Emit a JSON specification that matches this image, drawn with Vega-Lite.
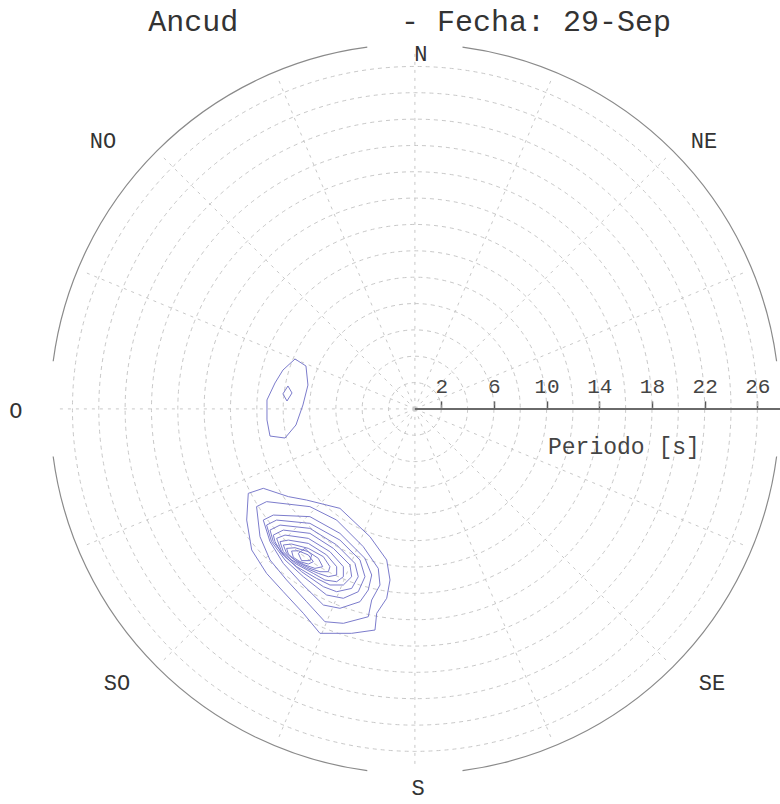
{
  "$schema": "https://vega.github.io/schema/vega-lite/v6.json",
  "width": 780,
  "height": 804,
  "autosize": {"type": "none"},
  "padding": 0,
  "background": "white",
  "config": {"view": {"stroke": null}},
  "datasets": {
    "rings": [{"p": 2, "o": 0}, {"p": 4, "o": 0}, {"p": 6, "o": 0}, {"p": 8, "o": 0}, {"p": 10, "o": 0}, {"p": 12, "o": 0}, {"p": 14, "o": 0}, {"p": 16, "o": 0}, {"p": 18, "o": 0}, {"p": 20, "o": 0}, {"p": 22, "o": 0}, {"p": 24, "o": 0}, {"p": 26, "o": 0}],
    "spokes": [
      {"o": 0, "ex": 0, "ny": 27}, {"o": 0, "ex": 10.33, "ny": 24.94}, {"o": 0, "ex": 19.09, "ny": 19.09}, {"o": 0, "ex": 24.94, "ny": 10.33},
      {"o": 0, "ex": 24.94, "ny": -10.33}, {"o": 0, "ex": 19.09, "ny": -19.09}, {"o": 0, "ex": 10.33, "ny": -24.94},
      {"o": 0, "ex": 0, "ny": -27}, {"o": 0, "ex": -10.33, "ny": -24.94}, {"o": 0, "ex": -19.09, "ny": -19.09}, {"o": 0, "ex": -24.94, "ny": -10.33},
      {"o": 0, "ex": -27, "ny": 0}, {"o": 0, "ex": -24.94, "ny": 10.33}, {"o": 0, "ex": -19.09, "ny": 19.09}, {"o": 0, "ex": -10.33, "ny": 24.94}
    ],
    "outer": [
      {"o": 0, "t1": 7.5, "t2": 82.5, "r": 27.7}, {"o": 0, "t1": 97.5, "t2": 172.5, "r": 27.7},
      {"o": 0, "t1": 187.5, "t2": 262.5, "r": 27.7}, {"o": 0, "t1": 277.5, "t2": 352.5, "r": 27.7}
    ],
    "axisline": [{"a": 0, "b": 27.72, "z": 0}],
    "contours": [
      {"c": "L1", "i": 1, "e": -12.65, "n": -6.41}, {"c": "L1", "i": 2, "e": -11.51, "n": -6.03}, {"c": "L1", "i": 3, "e": -9.61, "n": -6.66}, {"c": "L1", "i": 4, "e": -8.22, "n": -6.92}, {"c": "L1", "i": 5, "e": -5.69, "n": -7.55}, {"c": "L1", "i": 6, "e": -3.41, "n": -9.70}, {"c": "L1", "i": 7, "e": -2.14, "n": -11.47}, {"c": "L1", "i": 8, "e": -1.89, "n": -12.99}, {"c": "L1", "i": 9, "e": -2.14, "n": -14.38}, {"c": "L1", "i": 10, "e": -2.90, "n": -15.52}, {"c": "L1", "i": 11, "e": -3.03, "n": -16.79}, {"c": "L1", "i": 12, "e": -4.80, "n": -17.04}, {"c": "L1", "i": 13, "e": -7.21, "n": -17.04}, {"c": "L1", "i": 14, "e": -8.47, "n": -15.52}, {"c": "L1", "i": 15, "e": -9.99, "n": -13.88}, {"c": "L1", "i": 16, "e": -11.26, "n": -12.49}, {"c": "L1", "i": 17, "e": -12.39, "n": -10.71}, {"c": "L1", "i": 18, "e": -12.77, "n": -8.44}, {"c": "L1", "i": 19, "e": -12.65, "n": -6.41},
      {"c": "L2", "i": 1, "e": -12.02, "n": -7.42}, {"c": "L2", "i": 2, "e": -11.26, "n": -7.04}, {"c": "L2", "i": 3, "e": -7.97, "n": -7.42}, {"c": "L2", "i": 4, "e": -5.94, "n": -8.44}, {"c": "L2", "i": 5, "e": -3.92, "n": -10.46}, {"c": "L2", "i": 6, "e": -2.78, "n": -12.11}, {"c": "L2", "i": 7, "e": -2.65, "n": -13.37}, {"c": "L2", "i": 8, "e": -3.28, "n": -14.51}, {"c": "L2", "i": 9, "e": -3.54, "n": -15.78}, {"c": "L2", "i": 10, "e": -5.43, "n": -16.28}, {"c": "L2", "i": 11, "e": -6.83, "n": -16.16}, {"c": "L2", "i": 12, "e": -8.22, "n": -14.64}, {"c": "L2", "i": 13, "e": -9.74, "n": -12.99}, {"c": "L2", "i": 14, "e": -11.00, "n": -11.47}, {"c": "L2", "i": 15, "e": -11.76, "n": -9.70}, {"c": "L2", "i": 16, "e": -12.02, "n": -7.42},
      {"c": "L3", "i": 1, "e": -11.51, "n": -8.44}, {"c": "L3", "i": 2, "e": -10.75, "n": -8.06}, {"c": "L3", "i": 3, "e": -7.97, "n": -8.18}, {"c": "L3", "i": 4, "e": -5.69, "n": -9.45}, {"c": "L3", "i": 5, "e": -3.79, "n": -11.35}, {"c": "L3", "i": 6, "e": -3.28, "n": -12.61}, {"c": "L3", "i": 7, "e": -3.54, "n": -13.75}, {"c": "L3", "i": 8, "e": -4.17, "n": -14.64}, {"c": "L3", "i": 9, "e": -5.69, "n": -15.14}, {"c": "L3", "i": 10, "e": -6.95, "n": -14.89}, {"c": "L3", "i": 11, "e": -8.60, "n": -13.25}, {"c": "L3", "i": 12, "e": -9.99, "n": -11.73}, {"c": "L3", "i": 13, "e": -11.00, "n": -10.08}, {"c": "L3", "i": 14, "e": -11.51, "n": -8.44},
      {"c": "L4", "i": 1, "e": -11.26, "n": -8.82}, {"c": "L4", "i": 2, "e": -10.50, "n": -8.44}, {"c": "L4", "i": 3, "e": -7.97, "n": -8.69}, {"c": "L4", "i": 4, "e": -5.69, "n": -9.96}, {"c": "L4", "i": 5, "e": -4.17, "n": -11.47}, {"c": "L4", "i": 6, "e": -3.79, "n": -12.74}, {"c": "L4", "i": 7, "e": -4.30, "n": -13.88}, {"c": "L4", "i": 8, "e": -5.43, "n": -14.38}, {"c": "L4", "i": 9, "e": -6.70, "n": -14.13}, {"c": "L4", "i": 10, "e": -8.47, "n": -12.74}, {"c": "L4", "i": 11, "e": -9.86, "n": -11.47}, {"c": "L4", "i": 12, "e": -10.88, "n": -10.08}, {"c": "L4", "i": 13, "e": -11.26, "n": -8.82},
      {"c": "L5", "i": 1, "e": -11.00, "n": -9.20}, {"c": "L5", "i": 2, "e": -10.24, "n": -8.82}, {"c": "L5", "i": 3, "e": -7.97, "n": -9.07}, {"c": "L5", "i": 4, "e": -5.94, "n": -10.33}, {"c": "L5", "i": 5, "e": -4.55, "n": -11.73}, {"c": "L5", "i": 6, "e": -4.30, "n": -12.74}, {"c": "L5", "i": 7, "e": -4.80, "n": -13.63}, {"c": "L5", "i": 8, "e": -5.94, "n": -13.88}, {"c": "L5", "i": 9, "e": -6.95, "n": -13.50}, {"c": "L5", "i": 10, "e": -8.60, "n": -12.36}, {"c": "L5", "i": 11, "e": -9.86, "n": -11.22}, {"c": "L5", "i": 12, "e": -10.75, "n": -10.08}, {"c": "L5", "i": 13, "e": -11.00, "n": -9.20},
      {"c": "L6", "i": 1, "e": -10.75, "n": -9.58}, {"c": "L6", "i": 2, "e": -9.99, "n": -9.20}, {"c": "L6", "i": 3, "e": -7.97, "n": -9.45}, {"c": "L6", "i": 4, "e": -6.19, "n": -10.59}, {"c": "L6", "i": 5, "e": -4.93, "n": -11.85}, {"c": "L6", "i": 6, "e": -4.80, "n": -12.74}, {"c": "L6", "i": 7, "e": -5.43, "n": -13.37}, {"c": "L6", "i": 8, "e": -6.45, "n": -13.37}, {"c": "L6", "i": 9, "e": -7.46, "n": -12.87}, {"c": "L6", "i": 10, "e": -8.98, "n": -11.98}, {"c": "L6", "i": 11, "e": -10.12, "n": -10.97}, {"c": "L6", "i": 12, "e": -10.62, "n": -10.08}, {"c": "L6", "i": 13, "e": -10.75, "n": -9.58},
      {"c": "L7", "i": 1, "e": -10.50, "n": -9.83}, {"c": "L7", "i": 2, "e": -9.86, "n": -9.58}, {"c": "L7", "i": 3, "e": -8.09, "n": -9.83}, {"c": "L7", "i": 4, "e": -6.45, "n": -10.84}, {"c": "L7", "i": 5, "e": -5.43, "n": -11.98}, {"c": "L7", "i": 6, "e": -5.43, "n": -12.74}, {"c": "L7", "i": 7, "e": -5.94, "n": -13.12}, {"c": "L7", "i": 8, "e": -6.83, "n": -12.99}, {"c": "L7", "i": 9, "e": -7.71, "n": -12.49}, {"c": "L7", "i": 10, "e": -9.10, "n": -11.73}, {"c": "L7", "i": 11, "e": -10.12, "n": -10.84}, {"c": "L7", "i": 12, "e": -10.50, "n": -9.83},
      {"c": "L8", "i": 1, "e": -10.24, "n": -10.08}, {"c": "L8", "i": 2, "e": -9.61, "n": -9.96}, {"c": "L8", "i": 3, "e": -8.09, "n": -10.21}, {"c": "L8", "i": 4, "e": -6.70, "n": -11.09}, {"c": "L8", "i": 5, "e": -5.94, "n": -11.98}, {"c": "L8", "i": 6, "e": -5.94, "n": -12.61}, {"c": "L8", "i": 7, "e": -6.57, "n": -12.74}, {"c": "L8", "i": 8, "e": -7.33, "n": -12.49}, {"c": "L8", "i": 9, "e": -8.22, "n": -12.11}, {"c": "L8", "i": 10, "e": -9.36, "n": -11.47}, {"c": "L8", "i": 11, "e": -9.99, "n": -10.84}, {"c": "L8", "i": 12, "e": -10.24, "n": -10.08},
      {"c": "L9", "i": 1, "e": -9.99, "n": -10.33}, {"c": "L9", "i": 2, "e": -9.36, "n": -10.26}, {"c": "L9", "i": 3, "e": -8.09, "n": -10.59}, {"c": "L9", "i": 4, "e": -6.95, "n": -11.22}, {"c": "L9", "i": 5, "e": -6.45, "n": -11.98}, {"c": "L9", "i": 6, "e": -6.57, "n": -12.36}, {"c": "L9", "i": 7, "e": -7.21, "n": -12.36}, {"c": "L9", "i": 8, "e": -7.97, "n": -12.11}, {"c": "L9", "i": 9, "e": -8.98, "n": -11.60}, {"c": "L9", "i": 10, "e": -9.74, "n": -10.97}, {"c": "L9", "i": 11, "e": -9.99, "n": -10.33},
      {"c": "L10", "i": 1, "e": -9.74, "n": -10.59}, {"c": "L10", "i": 2, "e": -9.10, "n": -10.54}, {"c": "L10", "i": 3, "e": -8.09, "n": -10.84}, {"c": "L10", "i": 4, "e": -7.33, "n": -11.35}, {"c": "L10", "i": 5, "e": -7.00, "n": -11.98}, {"c": "L10", "i": 6, "e": -7.59, "n": -12.11}, {"c": "L10", "i": 7, "e": -8.35, "n": -11.85}, {"c": "L10", "i": 8, "e": -9.10, "n": -11.47}, {"c": "L10", "i": 9, "e": -9.61, "n": -11.02}, {"c": "L10", "i": 10, "e": -9.74, "n": -10.59},
      {"c": "L11", "i": 1, "e": -9.36, "n": -10.79}, {"c": "L11", "i": 2, "e": -8.85, "n": -10.77}, {"c": "L11", "i": 3, "e": -8.09, "n": -11.09}, {"c": "L11", "i": 4, "e": -7.71, "n": -11.60}, {"c": "L11", "i": 5, "e": -8.09, "n": -11.78}, {"c": "L11", "i": 6, "e": -8.72, "n": -11.60}, {"c": "L11", "i": 7, "e": -9.23, "n": -11.27}, {"c": "L11", "i": 8, "e": -9.36, "n": -10.79},
      {"c": "L12", "i": 1, "e": -8.85, "n": -10.97}, {"c": "L12", "i": 2, "e": -8.35, "n": -10.59}, {"c": "L12", "i": 3, "e": -7.84, "n": -11.09}, {"c": "L12", "i": 4, "e": -7.97, "n": -11.52}, {"c": "L12", "i": 5, "e": -8.60, "n": -11.52}, {"c": "L12", "i": 6, "e": -8.85, "n": -10.97},
      {"c": "S1", "i": 1, "e": -9.10, "n": 3.79}, {"c": "S1", "i": 2, "e": -8.27, "n": 3.26}, {"c": "S1", "i": 3, "e": -8.12, "n": 1.81}, {"c": "S1", "i": 4, "e": -8.50, "n": 0.30}, {"c": "S1", "i": 5, "e": -9.03, "n": -1.22}, {"c": "S1", "i": 6, "e": -9.86, "n": -2.21}, {"c": "S1", "i": 7, "e": -11.00, "n": -2.06}, {"c": "S1", "i": 8, "e": -11.23, "n": -0.84}, {"c": "S1", "i": 9, "e": -11.23, "n": 0.68}, {"c": "S1", "i": 10, "e": -10.62, "n": 1.97}, {"c": "S1", "i": 11, "e": -10.02, "n": 2.95}, {"c": "S1", "i": 12, "e": -9.10, "n": 3.79},
      {"c": "S2", "i": 1, "e": -10.02, "n": 1.14}, {"c": "S2", "i": 2, "e": -9.64, "n": 1.74}, {"c": "S2", "i": 3, "e": -9.33, "n": 1.21}, {"c": "S2", "i": 4, "e": -9.71, "n": 0.60}, {"c": "S2", "i": 5, "e": -10.02, "n": 1.14}
    ],
    "compass": [
      {"t": "N", "e": 0.45, "n": 26.94}, {"t": "NE", "e": 21.95, "n": 20.34}, {"t": "NO", "e": -23.68, "n": 20.34},
      {"t": "O", "e": -30.29, "n": -0.16}, {"t": "SO", "e": -22.62, "n": -20.81}, {"t": "SE", "e": 22.56, "n": -20.81},
      {"t": "S", "e": 0.24, "n": -28.75}
    ],
    "titles": [{"t": "Ancud", "e": -20.25, "n": 29.4}, {"t": "- Fecha: 29-Sep", "e": -1.06, "n": 29.4}],
    "xlabel": [{"t": "Periodo [s]", "e": 15.87, "n": -2.89}]
  },
  "layer": [
    {
      "data": {"name": "rings"},
      "mark": {"type": "point", "shape": "circle", "filled": false, "stroke": "#c8c8c8", "strokeWidth": 1, "strokeDash": [4, 4], "opacity": 1},
      "encoding": {
        "x": {"field": "o", "type": "quantitative", "scale": {"domain": [-31.5, 27.72], "nice": false, "zero": false},
              "axis": {"orient": "top", "offset": -408.9, "values": [2, 6, 10, 14, 18, 22, 26], "domain": false, "grid": false, "ticks": true, "tickSize": 8, "tickWidth": 1.5, "tickColor": "#555", "labels": true, "labelFont": "Liberation Mono", "labelFontSize": 21, "labelColor": "#444", "labelPadding": 4, "labelFlush": false, "labelOverlap": false, "title": null}},
        "y": {"field": "o", "type": "quantitative", "scale": {"domain": [-30.0, 31.05], "nice": false, "zero": false}, "axis": null},
        "size": {"field": "p", "type": "quantitative", "scale": {"type": "pow", "exponent": 2, "domain": [0, 28], "range": [0, 544024], "zero": true}, "legend": null}
      }
    },
    {
      "data": {"name": "spokes"},
      "mark": {"type": "rule", "stroke": "#c8c8c8", "strokeWidth": 1, "strokeDash": [3, 5]},
      "encoding": {
        "x": {"field": "o", "type": "quantitative"},
        "y": {"field": "o", "type": "quantitative", "axis": null},
        "x2": {"field": "ex"},
        "y2": {"field": "ny"}
      }
    },
    {
      "data": {"name": "outer"},
      "mark": {"type": "arc", "filled": false, "stroke": "#8a8a8a", "strokeWidth": 1.2},
      "encoding": {
        "x": {"field": "o", "type": "quantitative"},
        "y": {"field": "o", "type": "quantitative", "axis": null},
        "theta": {"field": "t1", "type": "quantitative", "stack": null, "scale": {"domain": [0, 360], "range": [0, 6.283185307]}},
        "theta2": {"field": "t2"},
        "radius": {"field": "r", "type": "quantitative", "scale": {"type": "linear", "domain": [0, 28], "range": [0, 368.79], "zero": true}},
        "radius2": {"field": "r"}
      }
    },
    {
      "data": {"name": "contours"},
      "mark": {"type": "line", "stroke": "#7c7ccc", "strokeWidth": 1},
      "encoding": {
        "x": {"field": "e", "type": "quantitative"},
        "y": {"field": "n", "type": "quantitative", "axis": null},
        "detail": {"field": "c"},
        "order": {"field": "i", "type": "quantitative"}
      }
    },
    {
      "data": {"name": "axisline"},
      "mark": {"type": "rule", "stroke": "#6a6a6a", "strokeWidth": 2},
      "encoding": {
        "x": {"field": "a", "type": "quantitative"},
        "x2": {"field": "b"},
        "y": {"field": "z", "type": "quantitative", "axis": null}
      }
    },
    {
      "data": {"name": "compass"},
      "mark": {"type": "text", "font": "Liberation Mono", "fontSize": 22, "color": "#333", "align": "center", "baseline": "middle"},
      "encoding": {
        "x": {"field": "e", "type": "quantitative"},
        "y": {"field": "n", "type": "quantitative", "axis": null},
        "text": {"field": "t"}
      }
    },
    {
      "data": {"name": "titles"},
      "mark": {"type": "text", "font": "Liberation Mono", "fontSize": 30, "color": "#333", "align": "left", "baseline": "middle"},
      "encoding": {
        "x": {"field": "e", "type": "quantitative"},
        "y": {"field": "n", "type": "quantitative", "axis": null},
        "text": {"field": "t"}
      }
    },
    {
      "data": {"name": "xlabel"},
      "mark": {"type": "text", "font": "Liberation Mono", "fontSize": 23, "color": "#444", "align": "center", "baseline": "middle"},
      "encoding": {
        "x": {"field": "e", "type": "quantitative"},
        "y": {"field": "n", "type": "quantitative", "axis": null},
        "text": {"field": "t"}
      }
    }
  ]
}
